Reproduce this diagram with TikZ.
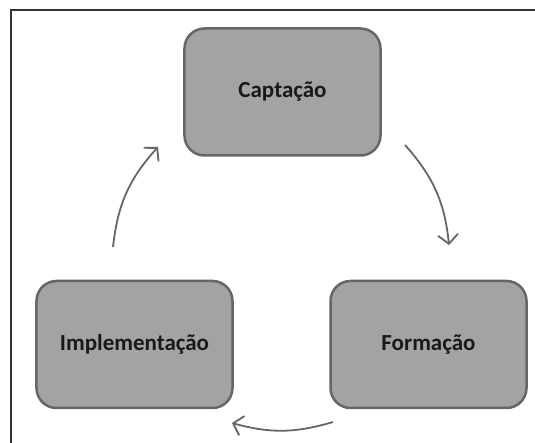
\documentclass[tikz,border=0pt]{standalone}
\usepackage{fontspec}
\setmainfont{Carlito}
\usepackage{xcolor}
\usepackage{tikz}
\usetikzlibrary{arrows.meta, positioning}
\definecolor{boxfill}{HTML}{A3A3A3}
\definecolor{boxedge}{HTML}{666666}
\definecolor{arrowgray}{HTML}{666666}
\definecolor{framegray}{HTML}{333333}
\tikzset{
    stagenode/.style = {draw=boxedge, fill=boxfill, line width=2.5pt, rectangle, rounded corners=20pt,
      minimum width=196pt, minimum height=127pt, inner sep=0pt, node distance=0em,
      text=black!90, font=\bfseries\fontsize{23}{27}\selectfont},
    connect/.style = {arrowgray, line width=1.8pt, -{Straight Barb[length=9pt, width=20pt]}},
    frameline/.style = {framegray, line width=2pt}
}

\begin{document}
\begin{tikzpicture}
    \useasboundingbox (-282.5pt,92pt) rectangle (252.5pt,-351pt);

    \node [name=capt, stagenode] {Captação};
    \node [name=impl, stagenode, below of = capt, xshift=-148pt, yshift=-252.5pt] {Implementação};
    \node [name=form, stagenode, below of = capt, xshift=146pt, yshift=-252.5pt] {Formação};

    % frame (open on the right and at the bottom)
    \coordinate (fbl) at (-271.5pt,-351pt);
    \coordinate (ftr) at (252.5pt,82pt);
    \draw [frameline] (fbl) |- (ftr);

    % cycle arrows
    \coordinate (a1s) at (122.5pt,-53pt);
    \coordinate (a1e) at (166.5pt,-153pt);
    \coordinate (a2s) at (50.5pt,-330pt);
    \coordinate (a2e) at (-50.5pt,-331pt);
    \coordinate (a3s) at (-169.5pt,-155pt);
    \coordinate (a3e) at (-124.5pt,-55pt);
    \draw (a1s) edge[connect, bend left=18] (a1e);
    \draw (a2s) edge[connect, bend left=16] (a2e);
    \draw (a3s) edge[connect, bend left=18] (a3e);
\end{tikzpicture}
\end{document}
